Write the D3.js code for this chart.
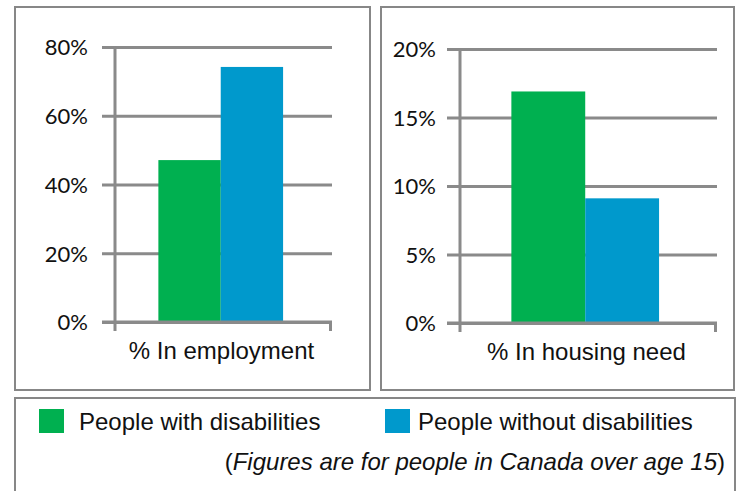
<!DOCTYPE html>
<html>
<head>
<meta charset="utf-8">
<script src="https://cdn.jsdelivr.net/npm/d3@7"></script>
<style>
  body { margin: 0; background: #fff; }
  svg { display: block; }
</style>
</head>
<body>
<div id="chart"></div>
<script>
// data
let seriesNames = ['People with disabilities', 'People without disabilities'];
let seriesColors = ['#00b050', '#0099cc'];
let employmentValues = [47.1, 74.2];
let housingValues = [16.9, 9.1];
let employmentTicks = [0, 20, 40, 60, 80];
let housingTicks = [0, 5, 10, 15, 20];
let panelTitles = ['% In employment', '% In housing need'];
let footnote = ['(', 'Figures are for people in Canada over age 15', ')'];

let width = 739, height = 491;
let svg = d3.select('#chart').append('svg')
    .attr('width', width)
    .attr('height', height);

let frameColor = '#878787';
let gridColor = '#8a8a8a';
let textFont = '"Liberation Sans", Arial, sans-serif';

//画一个面板
function drawPanel(box, plot, values, ticks, title) {
    //外框
    svg.append('rect')
        .attr('x', box.x).attr('y', box.y)
        .attr('width', box.w).attr('height', box.h)
        .attr('fill', 'none')
        .attr('stroke', frameColor)
        .attr('stroke-width', 2);

    let y = d3.scaleLinear()
        .domain([0, d3.max(ticks)])
        .range([plot.bottom, plot.top]);
    let x = d3.scaleBand()
        .domain([title])
        .range([plot.left, plot.right])
        .paddingOuter(0.37)
        .paddingInner(0)
        .align(0.47);
    let xs = d3.scaleBand()
        .domain(seriesNames)
        .range([0, x.bandwidth()]);

    let g = svg.append('g');

    //网格线 + 刻度
    let yAxis = d3.axisLeft(y)
        .tickValues(ticks)
        .tickFormat(d => d + '%')
        .tickSize(-(plot.right - plot.left))
        .tickSizeOuter(0)
        .tickPadding(0);
    let ya = g.append('g')
        .attr('transform', 'translate(' + plot.left + ',0)')
        .call(yAxis);
    ya.select('.domain').remove();
    ya.selectAll('.tick line')
        .attr('x1', -13)
        .attr('stroke', gridColor)
        .attr('stroke-width', 3);
    ya.selectAll('.tick text')
        .attr('x', -(plot.left - plot.labelRight))
        .attr('dy', '0.36em')
        .style('font-family', 'Lato, "Open Sans", sans-serif')
        .style('font-size', '22px')
        .attr('fill', '#111');

    //柱子
    g.selectAll('rect.bar')
        .data(values)
        .enter()
        .append('rect')
        .attr('class', 'bar')
        .attr('x', (d, i) => x(title) + xs(seriesNames[i]))
        .attr('width', xs.bandwidth())
        .attr('y', d => y(d))
        .attr('height', d => y(0) - y(d))
        .attr('fill', (d, i) => seriesColors[i]);

    //坐标轴
    g.append('line')
        .attr('x1', plot.left).attr('x2', plot.left)
        .attr('y1', y(d3.max(ticks)) - 1).attr('y2', plot.bottom + 9)
        .attr('stroke', gridColor).attr('stroke-width', 3);
    g.append('line')
        .attr('x1', plot.left - 13).attr('x2', plot.right)
        .attr('y1', plot.bottom).attr('y2', plot.bottom)
        .attr('stroke', gridColor).attr('stroke-width', 3);
    g.append('line')
        .attr('x1', plot.right - 1.5).attr('x2', plot.right - 1.5)
        .attr('y1', plot.bottom).attr('y2', plot.bottom + 9)
        .attr('stroke', gridColor).attr('stroke-width', 3);

    //类别名
    g.append('text')
        .attr('x', plot.left + (plot.right - plot.left) / 2 - 2)
        .attr('y', plot.bottom + 37)
        .attr('text-anchor', 'middle')
        .style('font-family', textFont)
        .style('font-size', '24px')
        .attr('fill', '#111')
        .text(title);
}

drawPanel({x: 15, y: 7, w: 355, h: 383},
    {left: 115, right: 332, top: 47, bottom: 322, labelRight: 88},
    employmentValues, employmentTicks, panelTitles[0]);
drawPanel({x: 381, y: 7, w: 353, h: 383},
    {left: 460, right: 717, top: 49, bottom: 323, labelRight: 436},
    housingValues, housingTicks, panelTitles[1]);

//图例框
svg.append('path')
    .attr('d', 'M15,' + (height + 5) + 'V398H735V' + (height + 5))
    .attr('fill', 'none')
    .attr('stroke', frameColor)
    .attr('stroke-width', 2);

let legendX = [39, 385];
let legend = svg.selectAll('g.legend')
    .data(seriesNames)
    .enter()
    .append('g')
    .attr('class', 'legend')
    .attr('transform', (d, i) => 'translate(' + legendX[i] + ',409)');
legend.append('rect')
    .attr('width', 25).attr('height', 24)
    .attr('fill', (d, i) => seriesColors[i]);
legend.append('text')
    .attr('x', (d, i) => i === 0 ? 40 : 33)
    .attr('y', 21)
    .style('font-family', textFont)
    .style('font-size', '24px')
    .attr('fill', '#111')
    .text(d => d);

//脚注
let note = svg.append('text')
    .attr('x', 725)
    .attr('y', 470)
    .attr('text-anchor', 'end')
    .style('font-family', textFont)
    .style('font-size', '24px')
    .attr('fill', '#111');
note.append('tspan').text(footnote[0]);
note.append('tspan').style('font-style', 'italic').text(footnote[1]);
note.append('tspan').text(footnote[2]);
</script>
</body>
</html>
